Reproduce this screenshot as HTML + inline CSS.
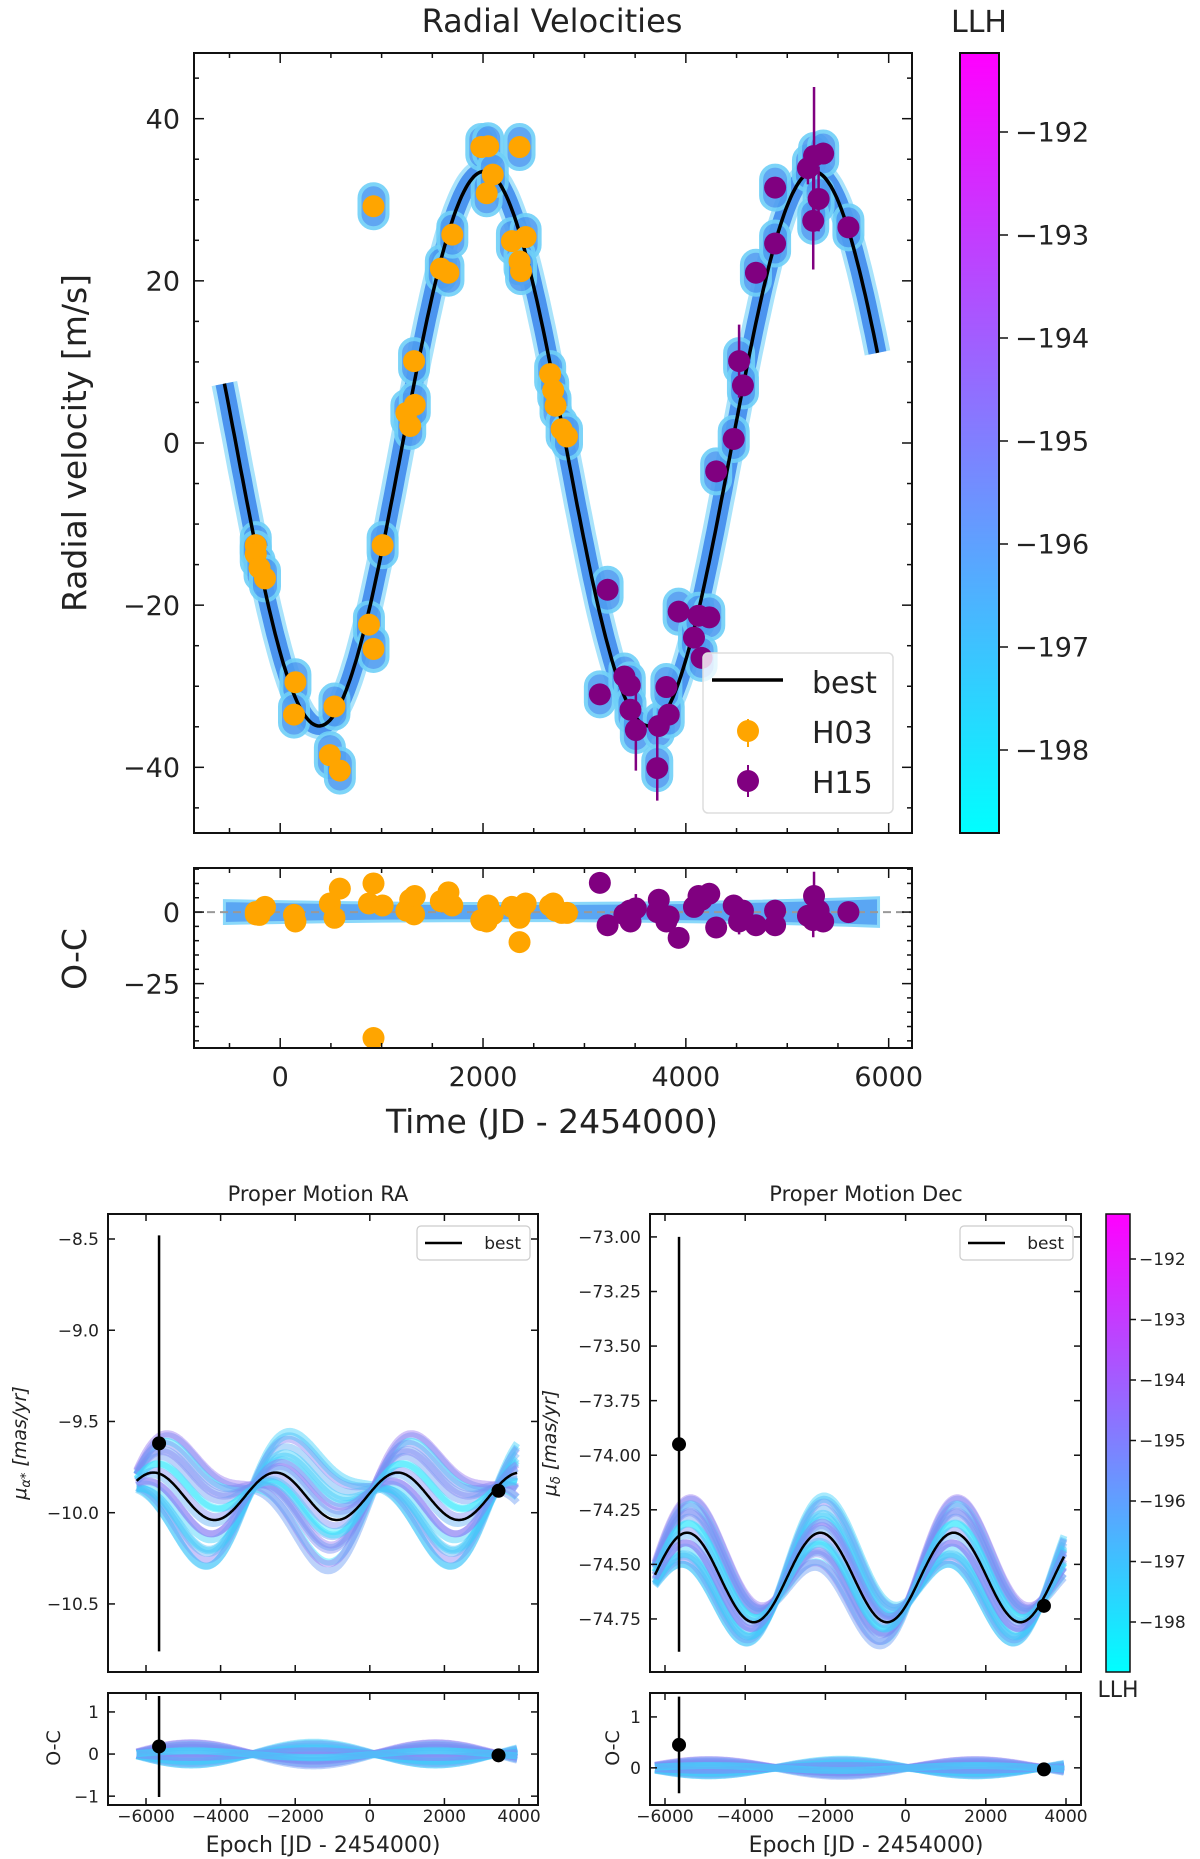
<!DOCTYPE html>
<html><head><meta charset="utf-8"><style>
body{margin:0;background:#fff}
svg{display:block;font-family:"DejaVu Sans","Liberation Sans",sans-serif}
</style></head><body>
<svg id="fig" xmlns="http://www.w3.org/2000/svg" width="1200" height="1859" viewBox="0 0 1200 1859">
<defs>
<linearGradient id="cool" x1="0" y1="1" x2="0" y2="0"><stop offset="0" stop-color="#00ffff"/><stop offset="1" stop-color="#ff00ff"/></linearGradient>
<clipPath id="cRV"><rect x="194" y="53" width="718" height="780"/></clipPath>
<clipPath id="cOC"><rect x="194" y="868" width="718" height="180"/></clipPath>
<clipPath id="cRA"><rect x="108" y="1214" width="430" height="458"/></clipPath>
<clipPath id="cRAo"><rect x="108" y="1693" width="430" height="112"/></clipPath>
<clipPath id="cDE"><rect x="650" y="1214" width="431" height="458"/></clipPath>
<clipPath id="cDEo"><rect x="650" y="1693" width="431" height="112"/></clipPath>
</defs>
<text x="552" y="32" font-size="32" text-anchor="middle" fill="#222">Radial Velocities</text>
<text transform="translate(86,443) rotate(-90)" font-size="33" text-anchor="middle" fill="#222">Radial velocity [m/s]</text>
<text transform="translate(86,959) rotate(-90)" font-size="33" text-anchor="middle" fill="#222">O-C</text>
<text x="552" y="1133" font-size="33" text-anchor="middle" fill="#222">Time (JD - 2454000)</text>
<text x="979" y="32" font-size="30" text-anchor="middle" fill="#222">LLH</text>
<rect x="960" y="53" width="39" height="780" fill="url(#cool)" stroke="#111" stroke-width="2"/>
<text x="318" y="1201" font-size="21" text-anchor="middle" fill="#222">Proper Motion RA</text>
<text x="866" y="1201" font-size="21" text-anchor="middle" fill="#222">Proper Motion Dec</text>
<text transform="translate(26,1443) rotate(-90)" font-size="19" font-style="italic" text-anchor="middle" fill="#222">μ<tspan font-size="13" dy="4">α*</tspan><tspan dy="-4"> [mas/yr]</tspan></text>
<text transform="translate(556,1443) rotate(-90)" font-size="19" font-style="italic" text-anchor="middle" fill="#222">μ<tspan font-size="13" dy="4">δ</tspan><tspan dy="-4"> [mas/yr]</tspan></text>
<text transform="translate(60,1748) rotate(-90)" font-size="19" text-anchor="middle" fill="#222">O-C</text>
<text transform="translate(619,1748) rotate(-90)" font-size="19" text-anchor="middle" fill="#222">O-C</text>
<text x="323" y="1852" font-size="22" text-anchor="middle" fill="#222">Epoch [JD - 2454000)</text>
<text x="866" y="1852" font-size="22" text-anchor="middle" fill="#222">Epoch [JD - 2454000)</text>
<rect x="1106" y="1214" width="24" height="458" fill="url(#cool)" stroke="#111" stroke-width="1.5"/>
<text x="1118" y="1697" font-size="22" text-anchor="middle" fill="#222">LLH</text>
<g id="root"></g>
</svg>
<script>
// ---- data ----
const h03T = [-241,-241,-204,-150,150,136,490,535,588,920,875,920,1010,1244,1282,1320,1327,1584,1659,1697,1983,2051,2036,2096,2360,2285,2420,2360,2375,2662,2692,2715,2775,2828];
const h03V = [-12.6,-13.7,-15.4,-16.7,-29.5,-33.5,-38.5,-32.5,-40.4,29.2,-22.4,-25.4,-12.6,3.7,2.1,10.1,4.7,21.5,21,25.7,36.5,36.6,30.8,33.1,36.5,24.9,25.4,22.4,21.2,8.5,6.5,4.6,1.7,0.8];
const h15T = [3152,3228,3394,3447,3454,3507,3733,3718,3831,3808,3929,4080,4125,4231,4155,4299,4472,4525,4563,4691,4880,4880,5204,5264,5354,5309,5256,5603];
const h15V = [-31,-18.1,-28.8,-29.9,-32.9,-35.4,-34.9,-40.1,-33.5,-30.1,-20.8,-24,-21.3,-21.5,-26.5,-3.5,0.5,10.1,7.1,21,24.6,31.5,33.9,35.4,35.7,30.1,27.4,26.6];
const h15E = [1,1,1,1,1,5,1,4,1,1,1,1,1,1,1,1,1,4.5,1,1,1,1,2,8.5,1,4,6,1];
const h03OC = [-0.8,0,-1,1.8,-3.3,-1,3,-2,8.2,-44,3,10,2.3,0.5,4.3,-0.8,5.6,3.8,6.9,2.3,-2.8,2.3,-3.3,-0.8,-10.5,1.8,3,-2,1,2.3,3,0.5,-0.3,-0.3];
const h15OC = [10.2,-4.6,-0.8,0.5,-3.3,1.3,4.3,0,-1.5,-3.3,-9,1.8,5.6,6.4,4.3,-5.4,2.3,-3.3,0.5,-4.6,-4.6,0.5,-1.3,5.6,-3.3,0.5,-2.8,0];
// best-fit model params: [period, amplitude, time of max, offset]
const rvModel = [3250, 34.2, 2010, -0.7];
const raModel = [3275, 0.13, 750, -9.91];
const decModel = [3325, 0.205, 1200, -74.56];
const raObsT = [-5650, 3450]; const raObsV = [-9.62, -9.88]; const raObsE = [1.14, 0.02];
const decObsT = [-5650, 3450]; const decObsV = [-73.95, -74.69]; const decObsE = [0.95, 0.02];
const raOcV = [0.18, -0.03]; const raOcE = [1.2, 0.02];
const decOcV = [0.45, -0.03]; const decOcE = [0.95, 0.02];
// posterior sample deviations (fraction of panel spread) and their small offsets
const sampW = [1,-1,0.85,-0.85,0.7,-0.7,0.55,-0.55,0.4,-0.4,0.25,-0.25,0.1,-0.1,0.95,-0.95,0.6,-0.6,0.3,-0.3];
const sampOff = [0.02,-0.02,0.01,-0.01,0,0.03,-0.03,0.01,-0.01,0.02,-0.02,0,0.01,-0.01,0,0.02,-0.02,0.01,0,-0.01];
const sampCol = ['#3fd0fb','#6a9cf4','#8a7ff3','#2ee6fd','#5fb0f6','#7f8cf4','#48c2f9','#9a78f2'];
const rvXTicks=[0,2000,4000,6000]; const rvYTicks=[-40,-20,0,20,40]; const ocYTicks=[-25,0];
const pmXTicks=[-6000,-4000,-2000,0,2000,4000];
const raYTicks=[-10.5,-10.0,-9.5,-9.0,-8.5]; const decYTicks=[-74.75,-74.50,-74.25,-74.00,-73.75,-73.50,-73.25,-73.00];
const raOcTicks=[-1,0,1]; const decOcTicks=[0,1];
const cbTicks=[-192,-193,-194,-195,-196,-197,-198];

const NS='http://www.w3.org/2000/svg', root=document.getElementById('root');
function mk(tag,at,par){const e=document.createElementNS(NS,tag);for(const k in at)e.setAttribute(k,at[k]);(par||root).appendChild(e);return e;}
function lin(d0,d1,p0,p1){return v=>p0+(v-d0)/(d1-d0)*(p1-p0);}
function model(m,t){return m[3]+m[1]*Math.cos(2*Math.PI*(t-m[2])/m[0]);}
function pathOf(f,X,Y,t0,t1){let d='';for(let t=t0;t<=t1;t+=20)d+=(d?'L':'M')+X(t).toFixed(1)+','+Y(f(t)).toFixed(1);return d;}

function axes(name,x0,y0,x1,y1,X,Y,xt,yt,xminor,yminor,xr,yr,fs,labelX,labelY,fmt){
  const g=mk('g',{});
  
  
  const fr=mk('rect',{x:x0,y:y0,width:x1-x0,height:y1-y0,fill:'none',stroke:'#111','stroke-width':2},g);
  
  
  const ml=fs>20?10:7, mn=fs>20?5:4;
  for(let v=Math.ceil(xr[0]/xminor)*xminor;v<=xr[1];v+=xminor){const x=X(v),maj=(v-xt[0])%(xt[1]-xt[0])===0;const L=maj?ml:mn;
    mk('line',{x1:x,x2:x,y1:y1,y2:y1-L,stroke:'#111','stroke-width':1.5},g);mk('line',{x1:x,x2:x,y1:y0,y2:y0+L,stroke:'#111','stroke-width':1.5},g);}
  for(let v=Math.ceil(yr[0]/yminor)*yminor;v<=yr[1]+1e-9;v+=yminor){const y=Y(v);const maj=yt.some(t=>Math.abs(t-v)<1e-6);const L=maj?ml:mn;
    mk('line',{x1:x0,x2:x0+L,y1:y,y2:y,stroke:'#111','stroke-width':1.5},g);mk('line',{x1:x1,x2:x1-L,y1:y,y2:y,stroke:'#111','stroke-width':1.5},g);}
  if(labelX) xt.forEach(v=>{const t=mk('text',{x:X(v),y:labelX,'font-size':fs,'text-anchor':'middle',fill:'#222'},g);t.textContent=String(v).replace('-','\u2212');});
  if(labelY) yt.forEach(v=>{const t=mk('text',{x:labelY,y:Y(v)+fs*0.36,'font-size':fs,'text-anchor':'end',fill:'#222'},g);t.textContent=fmt(v).replace('-','\u2212');});
}
function dot(par,x,y,r,c,y1,y2,w,name){
  if(y1!==undefined){const l=mk('line',{x1:x,x2:x,y1:y1,y2:y2,stroke:c,'stroke-width':w},par);}
  const e=mk('circle',{cx:x,cy:y,r:r,fill:c},par);
  
  
}

// ===== RV panel =====
const X=lin(-850,6230,194,912), Y=lin(48.1,-48.1,53,833), Yo=lin(15.4,-47.5,868,1048);
const gRV=mk('g',{'clip-path':'url(#cRV)'});


const rvf=t=>model(rvModel,t);
const b1=mk('path',{d:pathOf(rvf,X,Y,-550,5900),fill:'none',stroke:'#6fd0f8','stroke-width':26,'stroke-linejoin':'round',opacity:0.6},gRV);


const b2=mk('path',{d:pathOf(rvf,X,Y,-550,5900),fill:'none',stroke:'#4b94ef','stroke-width':18,'stroke-linejoin':'round'},gRV);


function blobs(T,V){T.forEach((t,i)=>{const b=mk('rect',{x:X(t)-14,y:Y(V[i])-22,width:28,height:44,rx:14,fill:'#4f9df1',stroke:'#6fd0f8','stroke-width':4,opacity:0.9},gRV);});}
blobs(h03T,h03V);blobs(h15T,h15V);
const best=mk('path',{d:pathOf(rvf,X,Y,-550,5900),fill:'none',stroke:'#000','stroke-width':3.5},gRV);


h03T.forEach((t,i)=>dot(gRV,X(t),Y(h03V[i]),11,'#ffa500',undefined,undefined,2,'h03-point'));
h15T.forEach((t,i)=>dot(gRV,X(t),Y(h15V[i]),11,'#800080',Y(h15V[i]+h15E[i]),Y(h15V[i]-h15E[i]),2.5,'h15-point'));
axes('rv-axes',194,53,912,833,X,Y,rvXTicks,rvYTicks,500,5,[-850,6230],[-48,48],27,null,180,v=>String(v));
const lg=mk('g',{});


mk('rect',{x:703,y:653,width:190,height:160,rx:5,fill:'#fff','fill-opacity':0.8,stroke:'#ddd','stroke-width':1.5},lg);
mk('line',{x1:712,x2:783,y1:680,y2:680,stroke:'#000','stroke-width':3.5},lg);
dot(lg,748,731,11,'#ffa500',719,747,2,'legend-h03-marker');
dot(lg,748,781,11,'#800080',765,797,2,'legend-h15-marker');
[['best',693],['H03',743],['H15',793]].forEach(([s,y])=>{const t=mk('text',{x:812,y:y,'font-size':30,fill:'#222'},lg);t.textContent=s;});

// ===== O-C panel =====
const gOC=mk('g',{'clip-path':'url(#cOC)'});


const ocb=mk('path',{d:`M${X(-550)},${Yo(4)} C${X(1500)},${Yo(2.5)} ${X(4000)},${Yo(2.5)} ${X(5900)},${Yo(5)} L${X(5900)},${Yo(-5)} C${X(4000)},${Yo(-2.5)} ${X(1500)},${Yo(-2.5)} ${X(-550)},${Yo(-4)} Z`,fill:'#5aa6f3',stroke:'#8ad8fa','stroke-width':3},gOC);


const zl=mk('line',{x1:194,x2:912,y1:Yo(0),y2:Yo(0),stroke:'#999','stroke-width':2,'stroke-dasharray':'8,5'},gOC);


h03T.forEach((t,i)=>dot(gOC,X(t),Yo(h03OC[i]),11,'#ffa500',undefined,undefined,2,'h03-residual'));
h15T.forEach((t,i)=>dot(gOC,X(t),Yo(h15OC[i]),11,'#800080',Yo(h15OC[i]+h15E[i]),Yo(h15OC[i]-h15E[i]),2.5,'h15-residual'));
axes('oc-axes',194,868,912,1048,X,Yo,rvXTicks,ocYTicks,500,5,[-850,6230],[-47.5,15.4],27,1086,180,v=>String(v));

function cbar(x,yTop,yBot,fs,name){const C=lin(-198,-192,yTop,yBot);cbTicks.forEach(v=>{const y=C(v);mk('line',{x1:x,x2:x+(fs>20?9:6),y1:y,y2:y,stroke:'#111','stroke-width':1.5});const t=mk('text',{x:x+(fs>20?16:9),y:y+fs*0.36,'font-size':fs,fill:'#222'});t.textContent=String(v).replace('-','\u2212');});}
cbar(999,750,132,27,'colorbar-top');
cbar(1130,1622,1259,17,'colorbar-bottom');

// ===== PM panels =====
function pm(name,clip,clipO,x0,x1,xr,yr,m,spread,tnode,obsT,obsV,obsE,ocV,ocE,ocr,yTicks,ocTicks,fmt,labX,legX){
  const PX=lin(xr[0],xr[1],x0,x1), PY=lin(yr[1],yr[0],1214,1672), PO=lin(ocr[1],ocr[0],1693,1805);
  const g=mk('g',{'clip-path':`url(#${clip})`}), go=mk('g',{'clip-path':`url(#${clipO})`});
  
  
  
  
  const bf=t=>model(m,t);
  sampW.forEach((w,i)=>{
    const dev=t=>w*spread*Math.sin(Math.PI*(t-tnode)/m[0])+sampOff[i]*spread*2;
    const p=mk('path',{d:pathOf(t=>bf(t)+dev(t),PX,PY,-6250,3950),fill:'none',stroke:sampCol[i%8],'stroke-width':7,opacity:0.45},g);
    
    
    const q=mk('path',{d:pathOf(t=>dev(t)*0.9,PX,PO,-6250,3950),fill:'none',stroke:sampCol[i%8],'stroke-width':7,opacity:0.45},go);
    
    
  });
  const b=mk('path',{d:pathOf(bf,PX,PY,-6250,3950),fill:'none',stroke:'#000','stroke-width':2.5},g);
  
  
  obsT.forEach((t,i)=>dot(g,PX(t),PY(obsV[i]),7,'#000',PY(obsV[i]+obsE[i]),PY(obsV[i]-obsE[i]),2.5,name+'-observation'));
  obsT.forEach((t,i)=>dot(go,PX(t),PO(ocV[i]),7,'#000',PO(ocV[i]+ocE[i]),PO(ocV[i]-ocE[i]),2.5,name+'-residual'));
  axes(name+'-axes',x0,1214,x1,1672,PX,PY,pmXTicks,yTicks,2000,(yTicks[1]-yTicks[0]),xr,yr,17,null,labX,fmt);
  axes(name+'-oc-axes',x0,1693,x1,1805,PX,PO,pmXTicks,ocTicks,2000,1,xr,ocr,17,1822,labX,v=>String(v));
  const lg=mk('g',{});
  
  
  mk('rect',{x:legX,y:1226,width:113,height:34,rx:4,fill:'#fff',stroke:'#ccc','stroke-width':1.2},lg);
  mk('line',{x1:legX+8,x2:legX+45,y1:1243,y2:1243,stroke:'#000','stroke-width':2.5},lg);
  const t=mk('text',{x:legX+104,y:1249,'font-size':17,'text-anchor':'end',fill:'#222'},lg);t.textContent='best';
}
pm('ra','cRA','cRAo',108,538,[-7019,4509],[-10.873,-8.363],raModel,0.3,-3150,raObsT,raObsV,raObsE,raOcV,raOcE,[-1.21,1.45],raYTicks,raOcTicks,v=>v.toFixed(1),99,417);
pm('dec','cDE','cDEo',650,1081,[-6374,4374],[-74.993,-72.895],decModel,0.18,-3250,decObsT,decObsV,decObsE,decOcV,decOcE,[-0.73,1.47],decYTicks,decOcTicks,v=>v.toFixed(2),641,960);
</script>
</body></html>
